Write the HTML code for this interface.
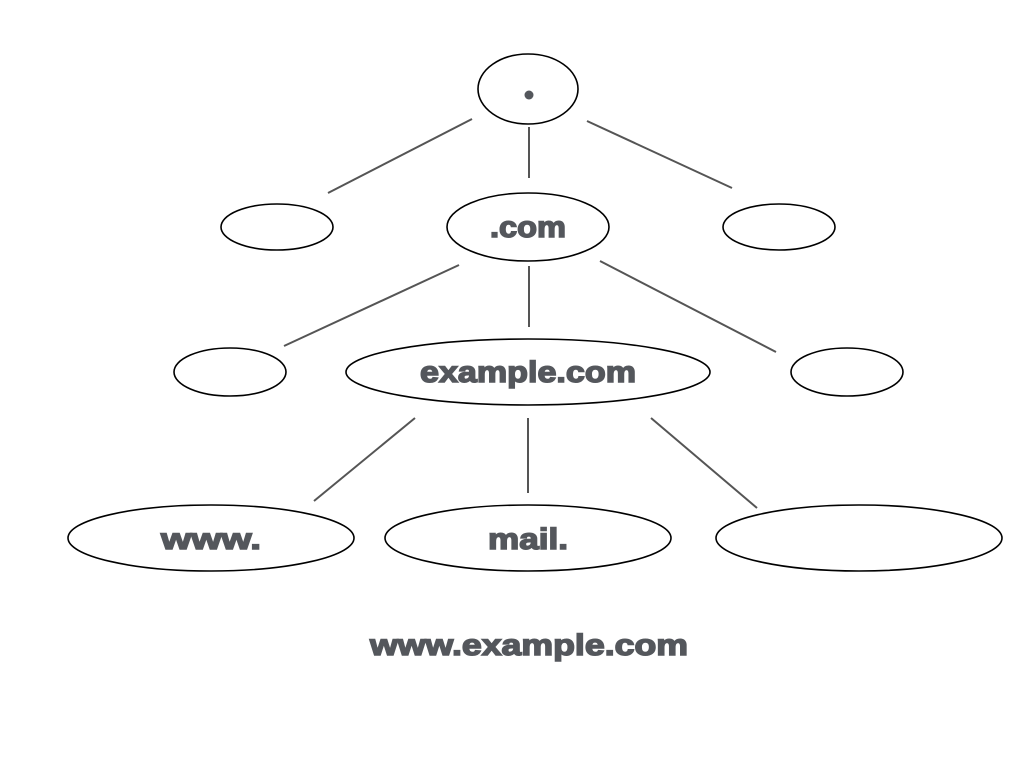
<!DOCTYPE html>
<html><head><meta charset="utf-8"><style>html,body{margin:0;padding:0;background:#fff}</style></head>
<body>
<svg width="1024" height="768" xmlns="http://www.w3.org/2000/svg">
<g fill="none" stroke="#000" stroke-width="1.6">
<ellipse cx="528" cy="89" rx="50" ry="35"/>
<ellipse cx="277" cy="227" rx="56" ry="23"/>
<ellipse cx="528" cy="227" rx="81" ry="34"/>
<ellipse cx="779" cy="227" rx="56" ry="23"/>
<ellipse cx="230" cy="372" rx="56" ry="24"/>
<ellipse cx="528" cy="372" rx="182" ry="33"/>
<ellipse cx="847" cy="372" rx="56" ry="24"/>
<ellipse cx="211" cy="538" rx="143" ry="33"/>
<ellipse cx="528" cy="538" rx="143" ry="33"/>
<ellipse cx="859" cy="538" rx="143" ry="33"/>
</g>
<g stroke="#555" stroke-width="2">
<line x1="472" y1="119" x2="328" y2="193"/>
<line x1="529" y1="127" x2="529" y2="178"/>
<line x1="587" y1="121" x2="732" y2="188"/>
<line x1="459" y1="265" x2="284" y2="346"/>
<line x1="529" y1="266" x2="529" y2="327"/>
<line x1="600" y1="261" x2="776" y2="352"/>
<line x1="415" y1="418" x2="314" y2="501"/>
<line x1="528" y1="418" x2="528" y2="493"/>
<line x1="651" y1="418" x2="757" y2="508"/>
</g>
<g font-family="Liberation Sans, sans-serif" font-weight="bold" font-size="30" fill="#54575c" stroke="#54575c" stroke-width="1.5" text-anchor="middle">
<circle cx="529" cy="95" r="4.5" stroke="none"/>
<text x="528" y="237" textLength="76" lengthAdjust="spacingAndGlyphs">.com</text>
<text x="528" y="382" textLength="216" lengthAdjust="spacingAndGlyphs">example.com</text>
<text x="211" y="549" textLength="100" lengthAdjust="spacingAndGlyphs">www.</text>
<text x="528" y="549" textLength="80" lengthAdjust="spacingAndGlyphs">mail.</text>
<text x="529" y="655" textLength="318" lengthAdjust="spacingAndGlyphs">www.example.com</text>
</g>
</svg>
</body></html>
